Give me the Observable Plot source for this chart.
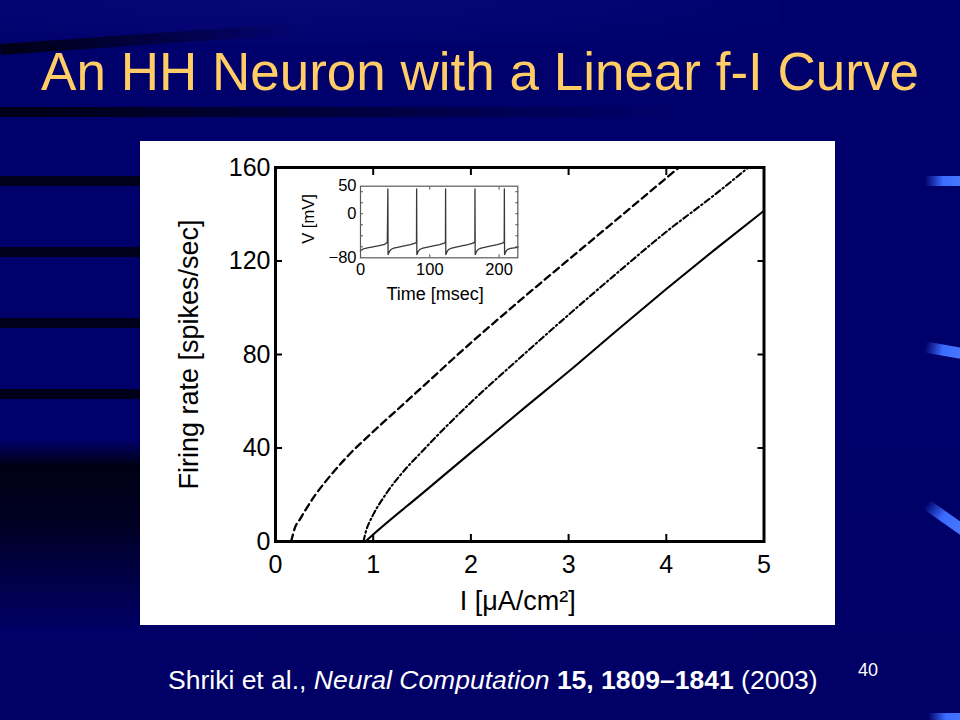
<!DOCTYPE html>
<html>
<head>
<meta charset="utf-8">
<script src="https://cdn.jsdelivr.net/npm/d3@7"></script>
<script src="https://cdn.jsdelivr.net/npm/@observablehq/plot@0.6"></script>
<style>
  html, body { margin: 0; padding: 0; }
  body { width: 960px; height: 720px; overflow: hidden; background: #00006a; font-family: "Liberation Sans", Arial, sans-serif; }
  #slide { position: relative; width: 960px; height: 720px; overflow: hidden;
    background: linear-gradient(to bottom, #00006c 0%, #00006a 60%, #000066 100%); }
  .band { position: absolute; left: 0; height: 10px; }
  .streak { position: absolute; height: 10px; background: linear-gradient(to right, rgba(60,110,255,0), #3a6cff 45%, #4a78ff); }
  #title { position: absolute; left: 0; top: 45px; width: 960px; text-align: center; color: #ffcc66; font-size: 53px; line-height: 53px; white-space: nowrap; }
  #main { position: absolute; left: 140px; top: 141px; }
  #inset { position: absolute; left: 290px; top: 175px; }
  #caption { position: absolute; left: 168px; top: 667px; color: #ffffff; font-size: 26.5px; line-height: 26.5px; white-space: nowrap; }
  #page { position: absolute; left: 858px; top: 661px; color: #ffffff; font-size: 18px; line-height: 18px; }
</style>
</head>
<body>
<div id="slide">
  <!-- decorative background bands -->
  <div class="band" style="top:0;width:780px;height:44px;background:radial-gradient(ellipse 620px 60px at 300px 0px, rgba(20,20,140,0.35), rgba(0,0,0,0));"></div>
  <div class="band" style="top:44px;width:300px;height:11px;border-radius:0 40px 40px 0;background:linear-gradient(to right, rgba(0,0,12,0.9), rgba(0,0,20,0.5) 50%, rgba(0,0,40,0));transform:rotate(-4deg);transform-origin:0 0;"></div>
  <div class="band" style="top:107px;width:680px;background:linear-gradient(to right, rgba(0,0,12,0.9), rgba(0,0,20,0.5) 55%, rgba(0,0,40,0));"></div>
  <div class="band" style="top:176px;width:150px;background:rgba(0,0,12,0.85);"></div>
  <div class="band" style="top:247px;width:150px;background:rgba(0,0,12,0.85);"></div>
  <div class="band" style="top:318px;width:150px;background:rgba(0,0,12,0.85);"></div>
  <div class="band" style="top:389px;width:150px;background:rgba(0,0,12,0.85);"></div>
  <div class="band" style="top:440px;width:150px;height:190px;background:linear-gradient(to bottom, rgba(0,0,10,0) 0%, rgba(0,0,10,0.9) 14%, rgba(0,0,20,0.8) 45%, rgba(0,0,60,0.05) 100%);"></div>
  <div class="streak" style="left:925px;top:176px;width:40px;"></div>
  <div class="streak" style="left:925px;top:345px;width:40px;height:11px;transform:rotate(10deg);"></div>
  <div class="streak" style="left:922px;top:512px;width:46px;height:11px;transform:rotate(35deg);"></div>
  <div class="streak" style="left:928px;top:713px;width:40px;height:8px;"></div>

  <div id="title">An HH Neuron with a Linear f-I Curve</div>
  <div id="main"></div>
  <div id="inset"></div>
  <div id="caption">Shriki et al., <i>Neural Computation</i> <b>15, 1809–1841</b> (2003)</div>
  <div id="page">40</div>
</div>
<script>
// ---- main f-I curves ----
const dashedI    = [0.16, 0.2, 0.25, 0.3, 0.4, 0.5, 0.75, 1, 1.25, 1.5, 2, 2.5, 3, 3.5, 4, 4.13];
const dashedRate = [0, 6, 9.5, 13, 19.5, 25, 37, 47, 56.5, 66, 85, 103, 120.6, 138, 155.5, 160];

const dashdotI    = [0.9, 0.93, 0.97, 1, 1.15, 1.32, 1.5, 1.66, 2, 2.5, 3, 3.5, 4, 4.5, 4.84];
const dashdotRate = [0, 5, 9, 11.5, 21.5, 30.5, 38.5, 45.5, 59.5, 78.5, 97, 115, 132.5, 148.5, 160];

const solidI    = [0.92, 1, 1.5, 2, 2.5, 3, 3.5, 4, 4.5, 5];
const solidRate = [0, 3, 20.5, 38, 55.5, 72.7, 90.5, 108, 125, 141.5];

const xTicks = [0, 1, 2, 3, 4, 5];
const yTicks = [0, 40, 80, 120, 160];
const xLabel = "I [μA/cm²]";
const yLabel = "Firing rate [spikes/sec]";

// ---- inset voltage trace ----
const traceT = [0, 4, 10, 18, 27, 35, 38.7, 39.5, 39.8, 40.3, 41.2, 42.5, 44.5, 48, 55, 63, 72, 79, 80.8,
  81, 81.3, 81.8, 82.7, 84, 86, 90, 97, 105, 114, 121, 122.6,
  122.8, 123.1, 123.6, 124.5, 125.8, 127.8, 131.5, 138, 146, 155, 162.5, 165,
  165.2, 165.5, 166, 166.9, 168.2, 170.2, 174, 180.5, 188.5, 197.5, 205, 207.4,
  207.6, 207.9, 208.4, 209.3, 210.6, 212.6, 216.5, 222, 227];
const traceV = [-67, -64, -62, -60, -58, -55.5, -52, 45, -74, -73, -70, -67, -64.5, -62.5, -60.5, -58.5, -56, -53.5, -51,
  45, -74, -73, -70, -67, -64.5, -62.5, -60.5, -58.5, -56, -53.5, -51,
  45, -74, -73, -70, -67, -64.5, -62.5, -60.5, -58.5, -56, -53.5, -51,
  45, -74, -73, -70, -67, -64.5, -62.5, -60.5, -58.5, -56, -53.5, -51,
  45, -74, -73, -70, -67, -64.5, -63, -62, -61];
const insetXTicks = [0, 100, 200];
const insetYLabels = [-80, 0, 50];
const insetYTicks = [-60, -40, -20, 0, 20, 40];
const insetXLabel = "Time [msec]";
const insetYLabel = "V [mV]";

const toRows = (xs, ys) => xs.map((x, i) => ({x, y: ys[i]}));
const dashed = toRows(dashedI, dashedRate);
const dashdot = toRows(dashdotI, dashdotRate);
const solid = toRows(solidI, solidRate);
const trace = toRows(traceT, traceV);

const font = "Liberation Sans, Arial, sans-serif";

const main = Plot.plot({
  width: 695, height: 484,
  marginLeft: 135, marginRight: 71.5, marginTop: 26, marginBottom: 84,
  style: {background: "white", fontFamily: font, fontSize: "25px", color: "black", overflow: "visible"},
  x: {domain: [0, 5]},
  y: {domain: [0, 160]},
  marks: [
    Plot.line(dashed, {x: "x", y: "y", curve: "monotone-x", stroke: "black", strokeWidth: 2.3, strokeDasharray: "7,4.5"}),
    Plot.line(dashdot, {x: "x", y: "y", curve: "monotone-x", stroke: "black", strokeWidth: 2.1, strokeDasharray: "6,3,1.5,3"}),
    Plot.line(solid, {x: "x", y: "y", curve: "monotone-x", stroke: "black", strokeWidth: 2.1}),
    Plot.axisX(xTicks, {anchor: "bottom", tickSize: 0, tickPadding: 14, fontSize: 25, label: null}),
    Plot.axisX(xTicks, {anchor: "bottom", tickSize: -7, strokeWidth: 2, tickFormat: () => "", label: null}),
    Plot.axisX(xTicks, {anchor: "top", tickSize: -7, strokeWidth: 2, tickFormat: () => "", label: null}),
    Plot.axisY(yTicks, {anchor: "left", tickSize: 0, tickPadding: 5, fontSize: 25, label: null}),
    Plot.axisY(yTicks, {anchor: "left", tickSize: -7, strokeWidth: 2, tickFormat: () => "", label: null}),
    Plot.axisY(yTicks, {anchor: "right", tickSize: -7, strokeWidth: 2, tickFormat: () => "", label: null}),
    Plot.frame({stroke: "black", strokeWidth: 3}),
    Plot.text([xLabel], {frameAnchor: "bottom", lineAnchor: "bottom", textAnchor: "middle", dy: 68.5, dx: -2, fontSize: 27, fill: "black"}),
    Plot.text([yLabel], {frameAnchor: "left", textAnchor: "middle", rotate: -90, dx: -86, fontSize: 27, fill: "black"})
  ]
});
document.getElementById("main").appendChild(main);

const inset = Plot.plot({
  width: 240, height: 135,
  marginLeft: 70, marginRight: 12.7, marginTop: 10.7, marginBottom: 52.7,
  style: {background: "transparent", fontFamily: font, fontSize: "16.5px", color: "black", overflow: "visible"},
  x: {domain: [0, 227]},
  y: {domain: [-80, 50]},
  marks: [
    Plot.line(trace, {x: "x", y: "y", stroke: "#383838", strokeWidth: 1.3}),
    Plot.axisX(insetXTicks, {anchor: "bottom", tickSize: 0, tickPadding: 5, fontSize: 16.5, label: null}),
    Plot.axisX(insetXTicks, {anchor: "bottom", tickSize: -3, stroke: "#555", tickFormat: () => "", label: null}),
    Plot.axisX(insetXTicks, {anchor: "top", tickSize: -3, stroke: "#555", tickFormat: () => "", label: null}),
    Plot.axisY(insetYLabels, {anchor: "left", tickSize: 0, tickPadding: 4, fontSize: 16.5, label: null, tickFormat: d => d < 0 ? "−" + Math.abs(d) : String(d)}),
    Plot.axisY(insetYTicks, {anchor: "left", tickSize: -3, stroke: "#555", tickFormat: () => "", label: null}),
    Plot.axisY(insetYTicks, {anchor: "right", tickSize: -3, stroke: "#555", tickFormat: () => "", label: null}),
    Plot.frame({stroke: "#5a5a5a", strokeWidth: 1.2}),
    Plot.text([insetXLabel], {frameAnchor: "bottom", lineAnchor: "bottom", textAnchor: "middle", dy: 42, dx: -4, fontSize: 18, fill: "black"}),
    Plot.text([insetYLabel], {frameAnchor: "left", textAnchor: "middle", rotate: -90, dx: -52, dy: -3, fontSize: 16.5, fill: "black"})
  ]
});
document.getElementById("inset").appendChild(inset);
</script>
</body>
</html>
